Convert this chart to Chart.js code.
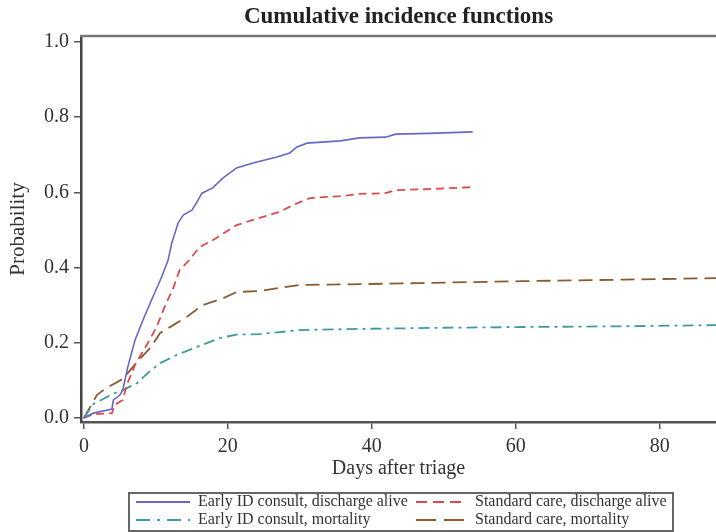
<!DOCTYPE html>
<html>
<head>
<meta charset="utf-8">
<script src="https://cdn.jsdelivr.net/npm/chart.js@4"></script>
<style>
  body { margin: 0; background: #fff; }
  canvas { display: block; }
</style>
</head>
<body>
<canvas id="cif" width="716" height="532"></canvas>
<script>
// values (days after triage / probability)
const blueDays = [0, 1.3, 3.9, 4.1, 5, 5.4, 6.1, 7.1, 8.2, 9.4, 10.8, 11.7, 12.2, 13.1, 13.8, 15, 15.7, 16.4, 17.9, 19.3, 21.2, 23.5, 26.8, 28.6, 29.6, 31, 35.6, 38.3, 41.9, 43.3, 48, 54];
const blueProb = [0, 0.013, 0.024, 0.048, 0.061, 0.074, 0.136, 0.207, 0.26, 0.314, 0.375, 0.42, 0.465, 0.519, 0.54, 0.553, 0.574, 0.598, 0.612, 0.638, 0.665, 0.678, 0.694, 0.705, 0.721, 0.731, 0.737, 0.745, 0.747, 0.755, 0.757, 0.761];

const redDays = [0, 1.3, 3.9, 4.3, 5.4, 6, 7.1, 8.9, 10.1, 11.2, 12.4, 13.3, 14.4, 16.1, 17.9, 21.2, 23.5, 27.2, 29, 31.4, 35.6, 38.3, 41.9, 43.3, 48, 54];
const redProb = [0, 0.01, 0.013, 0.035, 0.048, 0.09, 0.141, 0.2, 0.242, 0.295, 0.345, 0.394, 0.415, 0.455, 0.473, 0.513, 0.527, 0.548, 0.566, 0.585, 0.59, 0.596, 0.598, 0.606, 0.609, 0.614];

const tealDays = [0, 1.3, 2.6, 4, 5.7, 7.4, 8.9, 10.6, 12.9, 15.7, 18.9, 21.2, 24.4, 30, 38.3, 50, 61, 75, 87.8];
const tealProb = [0, 0.037, 0.05, 0.064, 0.077, 0.093, 0.12, 0.146, 0.168, 0.189, 0.213, 0.222, 0.223, 0.234, 0.237, 0.24, 0.242, 0.244, 0.247];

const brownDays = [0, 1.8, 2.9, 5.4, 7.4, 9.2, 10.6, 12.4, 14.3, 16.5, 19.3, 21.2, 24.4, 27.2, 30, 38.3, 47, 61, 75, 87.8];
const brownProb = [0, 0.061, 0.077, 0.104, 0.149, 0.186, 0.226, 0.247, 0.269, 0.3, 0.318, 0.335, 0.338, 0.346, 0.354, 0.356, 0.359, 0.364, 0.368, 0.372];

const seriesNames = [
  'Early ID consult, discharge alive',
  'Standard care, discharge alive',
  'Early ID consult, mortality',
  'Standard care, mortality'
];
const xTicks = [0, 20, 40, 60, 80];
const yTicks = [0, 0.2, 0.4, 0.6, 0.8, 1.0];

const serif = "'Liberation Serif', 'DejaVu Serif', serif";
const axisColor = '#555';

function pts(xs, ys) {
  return xs.map((x, i) => ({ x: x, y: ys[i] }));
}

// frame line on top + boxed legend under the x axis
const framePlugin = {
  id: 'framePlugin',
  afterDraw(chart) {
    const ctx = chart.ctx;
    const a = chart.chartArea;
    ctx.save();
    ctx.strokeStyle = '#777';
    ctx.lineWidth = 2.5;
    ctx.beginPath();
    ctx.moveTo(a.left - 1, a.top);
    ctx.lineTo(a.right, a.top);
    ctx.stroke();

    // legend box
    ctx.strokeStyle = '#666';
    ctx.lineWidth = 2;
    ctx.strokeRect(129, 493, 544, 38);

    const slots = [
      { x0: 136, x1: 190, tx: 198, y: 502 },
      { x0: 416, x1: 466, tx: 475, y: 502 },
      { x0: 136, x1: 190, tx: 198, y: 520 },
      { x0: 416, x1: 466, tx: 475, y: 520 }
    ];
    ctx.font = '16px ' + serif;
    ctx.textBaseline = 'middle';
    ctx.textAlign = 'left';
    chart.data.datasets.forEach((ds, k) => {
      const s = slots[k];
      ctx.strokeStyle = ds.borderColor;
      ctx.lineWidth = 2;
      ctx.setLineDash(ds.legendDash || []);
      ctx.beginPath();
      ctx.moveTo(s.x0, s.y);
      ctx.lineTo(s.x1, s.y);
      ctx.stroke();
      ctx.setLineDash([]);
      ctx.fillStyle = '#333';
      ctx.fillText(ds.label, s.tx, s.y);
    });
    ctx.restore();
  }
};

new Chart(document.getElementById('cif'), {
  type: 'line',
  data: {
    datasets: [
      {
        label: seriesNames[0],
        data: pts(blueDays, blueProb),
        borderColor: '#6868c4',
        borderWidth: 1.6,
        legendDash: []
      },
      {
        label: seriesNames[1],
        data: pts(redDays, redProb),
        borderColor: '#dc4b4b',
        borderWidth: 1.8,
        borderDash: [8, 5],
        legendDash: [11, 6]
      },
      {
        label: seriesNames[2],
        data: pts(tealDays, tealProb),
        borderColor: '#3f9d99',
        borderWidth: 1.8,
        borderDash: [11, 5, 3, 5],
        legendDash: [14, 7, 3, 7]
      },
      {
        label: seriesNames[3],
        data: pts(brownDays, brownProb),
        borderColor: '#8a5a30',
        borderWidth: 1.8,
        borderDash: [14, 7],
        legendDash: [20, 8]
      }
    ]
  },
  options: {
    responsive: false,
    animation: false,
    elements: { point: { radius: 0 }, line: { tension: 0 } },
    layout: { padding: 0 },
    plugins: {
      legend: { display: false },
      tooltip: { enabled: false },
      title: {
        display: true,
        fullSize: false,
        text: 'Cumulative incidence functions',
        color: '#222',
        font: { family: serif, size: 23, weight: 'bold', lineHeight: 1.2 },
        padding: { top: 3.5, bottom: 4.9 }
      }
    },
    scales: {
      x: {
        type: 'linear',
        min: -0.4,
        max: 87.8,
        afterBuildTicks: s => { s.ticks = xTicks.map(v => ({ value: v })); },
        afterFit: s => { s.height = 110; },
        grid: { drawOnChartArea: false, drawTicks: true, tickLength: 7, color: axisColor, lineWidth: 1.5 },
        border: { display: true, color: axisColor, width: 2.5 },
        ticks: { color: '#333', padding: 6, maxRotation: 0, font: { family: serif, size: 20 } },
        title: {
          display: true,
          text: 'Days after triage',
          color: '#333',
          font: { family: serif, size: 20, lineHeight: 1.2 },
          padding: { top: 0, bottom: 51 }
        }
      },
      y: {
        type: 'linear',
        min: -0.0106,
        max: 1.016,
        afterBuildTicks: s => { s.ticks = yTicks.map(v => ({ value: v })); },
        afterFit: s => { s.width = 81; },
        grid: { drawOnChartArea: false, drawTicks: true, tickLength: 7, color: axisColor, lineWidth: 1.5 },
        border: { display: true, color: '#444', width: 2.5 },
        ticks: {
          color: '#333',
          padding: 5,
          font: { family: serif, size: 20 },
          callback: v => v.toFixed(1)
        },
        title: {
          display: true,
          text: 'Probability',
          color: '#333',
          font: { family: serif, size: 21, lineHeight: 1.2 },
          padding: { top: 6, bottom: 0 }
        }
      }
    }
  },
  plugins: [framePlugin]
});
</script>
</body>
</html>
